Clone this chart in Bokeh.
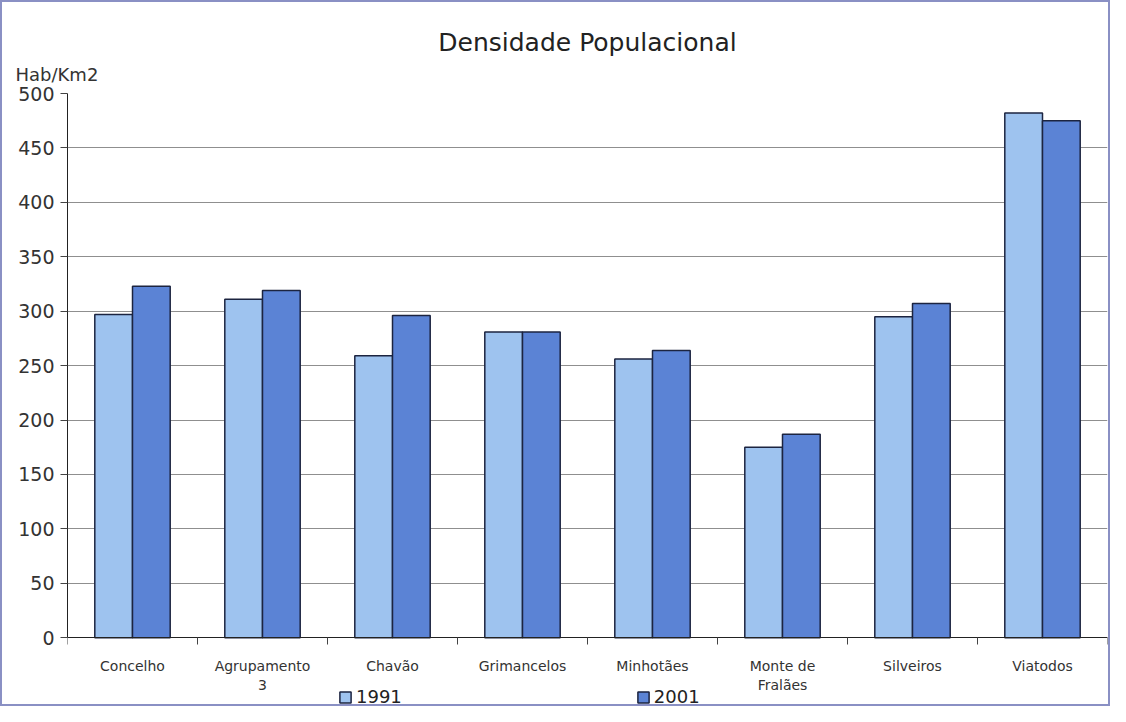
from bokeh.plotting import figure
from bokeh.models import (Range1d, LinearAxis, FixedTicker, Legend,
                          LegendItem, Title, ColumnDataSource)
from bokeh.transform import dodge
from bokeh.embed import file_html
from bokeh.resources import INLINE

categories = ["Concelho", "Agrupamento\n3", "Chavão", "Grimancelos", "Minhotães",
              "Monte de\nFralães", "Silveiros", "Viatodos"]
v1991 = [297, 311, 259, 281, 256, 175, 295, 482]
v2001 = [323, 319, 296, 281, 264, 187, 307, 475]
y_ticks = [0, 50, 100, 150, 200, 250, 300, 350, 400, 450, 500]
series = ["1991", "2001"]
colors = ["#9EC3EF", "#5B83D5"]

n = len(categories)
centers = [i + 0.5 for i in range(n)]
src = ColumnDataSource(data=dict(x=centers, cat=categories, y1991=v1991, y2001=v2001))

FONT = "DejaVu Sans"

# y range extends below zero only to leave room for labels/legend inside the frame
p = figure(width=1110, height=706, x_range=Range1d(0, n), y_range=Range1d(-65, 500),
           output_backend="svg", toolbar_location=None, title=None,
           x_axis_location=None, min_border_left=65, min_border_right=5,
           min_border_top=91, min_border_bottom=0)
p.styles = {"border": "2px solid #8a90c4"}

# boundary tick axis (ticks between categories), fixed at y = 0
tick_axis = LinearAxis(ticker=FixedTicker(ticks=list(range(n + 1))), fixed_location=0,
                       major_label_overrides={i: "" for i in range(n + 1)},
                       major_tick_in=0, major_tick_out=7, minor_tick_line_color=None,
                       major_label_standoff=0, major_label_text_font_size="1px",
                       axis_line_color="#222222", major_tick_line_color="#444444")
p.add_layout(tick_axis, "below")

# category labels at centres
label_axis = LinearAxis(ticker=FixedTicker(ticks=centers), fixed_location=0,
                        major_label_overrides={c: lab for c, lab in zip(centers, categories)},
                        axis_line_color=None, major_tick_line_color=None, minor_tick_line_color=None,
                        major_tick_in=0, major_tick_out=0,
                        major_label_text_font_size="14px", major_label_text_font=FONT,
                        major_label_text_color="#333333", major_label_standoff=20)
p.add_layout(label_axis, "below")

p.yaxis.ticker = FixedTicker(ticks=y_ticks)
p.yaxis.bounds = (0, 500)
p.yaxis.major_label_text_font_size = "19px"
p.yaxis.major_label_text_font = FONT
p.yaxis.major_label_text_color = "#333333"
p.yaxis.major_tick_in = 0
p.yaxis.major_tick_out = 7
p.yaxis.minor_tick_line_color = None
p.yaxis.axis_line_color = "#222222"
p.yaxis.major_tick_line_color = "#444444"
p.yaxis.major_label_standoff = 6

p.xgrid.grid_line_color = None
p.ygrid.grid_line_color = "#8f8f8f"
p.ygrid.grid_line_width = 1
p.outline_line_color = None

w = 0.29
r1 = p.vbar(x=dodge("x", -w / 2), top="y1991", width=w, source=src,
            fill_color=colors[0], line_color="#1c2440", line_width=1.5)
r2 = p.vbar(x=dodge("x", w / 2), top="y2001", width=w, source=src,
            fill_color=colors[1], line_color="#1c2440", line_width=1.5)

unit = Title(text="Hab/Km2", align="left", offset=-52, text_font_size="18px",
             text_font=FONT, text_font_style="normal", text_color="#333333", standoff=18)
p.add_layout(unit, "above")
main = Title(text="Densidade Populacional", align="center", text_font_size="25px",
             text_font=FONT, text_font_style="normal", text_color="#222222", standoff=-8)
p.add_layout(main, "above")

legend = Legend(items=[LegendItem(label=series[0], renderers=[r1]),
                       LegendItem(label=series[1], renderers=[r2])],
                orientation="horizontal", spacing=234, glyph_width=14, glyph_height=14,
                label_text_font_size="18px", label_text_font=FONT, label_text_color="#222222",
                border_line_color=None, background_fill_alpha=0, padding=0, margin=0,
                label_standoff=4, location=(271, 1))
p.add_layout(legend, "center")

open("out.html", "w").write(file_html(p, INLINE))
